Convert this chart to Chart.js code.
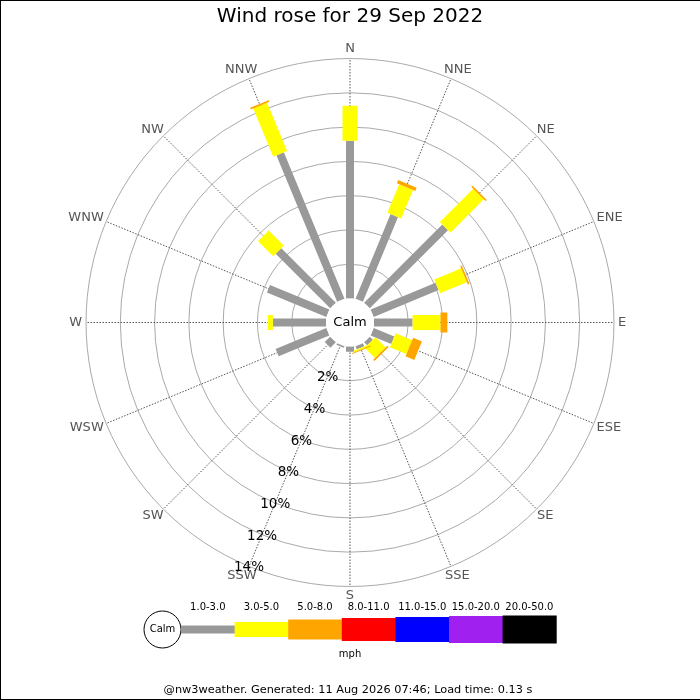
<!DOCTYPE html>
<html>
<head>
<meta charset="utf-8">
<script src="https://cdn.jsdelivr.net/npm/chart.js@4.4.0/dist/chart.umd.min.js"></script>
<style>
  html, body { margin: 0; padding: 0; background: #fff; }
  #wrap { width: 700px; height: 700px; }
</style>
</head>
<body>
<div id="wrap"><canvas id="rose" width="700" height="700"></canvas></div>
<script>
// wind rose data, % of time per direction and speed bin
const directions = ['N', 'NNE', 'NE', 'ENE', 'E', 'ESE', 'SE', 'SSE', 'S', 'SSW', 'SW', 'WSW', 'W', 'WNW', 'NW', 'NNW'];
const speedBins = ['1.0-3.0', '3.0-5.0', '5.0-8.0', '8.0-11.0', '11.0-15.0', '15.0-20.0', '20.0-50.0'];
const freq1to3 = [9.2, 5.35, 6.45, 4.1, 2.25, 1.3, 0.25, 0.2, 0.3, 0.1, 0.45, 3.2, 3.1, 3.75, 4.5, 9.25];
const freq3to5 = [2.05, 1.8, 2.75, 1.7, 1.63, 1.05, 0.85, 0.1, 0, 0, 0, 0, 0.3, 0, 1.25, 3.05];
const freq5to8 = [0, 0.2, 0.1, 0.1, 0.4, 0.55, 0.1, 0.05, 0, 0, 0, 0, 0, 0, 0, 0.1];
const freq8to11 = [0, 0, 0, 0, 0, 0, 0, 0, 0, 0, 0, 0, 0, 0, 0, 0];
const freq11to15 = [0, 0, 0, 0, 0, 0, 0, 0, 0, 0, 0, 0, 0, 0, 0, 0];
const freq15to20 = [0, 0, 0, 0, 0, 0, 0, 0, 0, 0, 0, 0, 0, 0, 0, 0];
const freq20to50 = [0, 0, 0, 0, 0, 0, 0, 0, 0, 0, 0, 0, 0, 0, 0, 0];
const ringTicks = [2, 4, 6, 8, 10, 12, 14];

const titleText = 'Wind rose for 29 Sep 2022';
const footerText = '@nw3weather. Generated: 11 Aug 2026 07:46; Load time: 0.13 s';

// styles
const binColors = ['#999999', '#ffff00', '#ffa500', '#ff0000', '#0000ff', '#a020f0', '#000000'];
const binWidths = [8, 15, 20, 23, 25, 27, 28];
const PX_PER_PCT = 17.14;
const CALM = 24 / PX_PER_PCT;   // calm circle radius in % units
const FONT = '"DejaVu Sans", sans-serif';

const bins = [freq1to3, freq3to5, freq5to8, freq8to11, freq11to15, freq15to20, freq20to50];

// one dataset per speed bin; each direction is a 2-point segment, NaN breaks the line
function segments(b) {
    const pts = [];
    directions.forEach((d, i) => {
        const v = bins[b][i];
        if (!v) return;
        let base = CALM;
        for (let k = 0; k < b; k++) base += bins[k][i];
        const a = i * 22.5 * Math.PI / 180;
        pts.push({ x: base * Math.sin(a), y: base * Math.cos(a) });
        pts.push({ x: (base + v) * Math.sin(a), y: (base + v) * Math.cos(a) });
        pts.push({ x: NaN, y: NaN });
    });
    return pts;
}

const datasets = speedBins.map((label, b) => ({
    label,
    data: segments(b),
    showLine: true,
    borderColor: binColors[b],
    borderWidth: binWidths[b],
    borderCapStyle: 'butt',
    // tiny tension keeps Chart.js off its per-pixel fast path (it would squash short slanted segments)
    tension: 0.000001,
    pointRadius: 0,
    pointHoverRadius: 0,
    spanGaps: false,
    order: speedBins.length - b,
}));

const rosePlugin = {
    id: 'rose',
    beforeDatasetsDraw(chart) {
        const ctx = chart.ctx, xs = chart.scales.x, ys = chart.scales.y;
        const cx = xs.getPixelForValue(0), cy = ys.getPixelForValue(0);
        const rpx = v => xs.getPixelForValue(v) - cx;
        const outer = rpx(CALM + ringTicks[ringTicks.length - 1]);
        ctx.save();
        ctx.fillStyle = '#fff';
        ctx.fillRect(0, 0, chart.width, chart.height);
        // rings
        ctx.strokeStyle = '#aaaaaa';
        ctx.lineWidth = 1;
        ringTicks.forEach(t => {
            ctx.beginPath();
            ctx.arc(cx, cy, rpx(CALM + t), 0, Math.PI * 2);
            ctx.stroke();
        });
        // spokes
        ctx.strokeStyle = '#555';
        ctx.setLineDash([1.5, 1.5]);
        directions.forEach((d, i) => {
            const a = i * 22.5 * Math.PI / 180;
            const r0 = rpx(CALM);
            ctx.beginPath();
            ctx.moveTo(cx + r0 * Math.sin(a), cy - r0 * Math.cos(a));
            ctx.lineTo(cx + outer * Math.sin(a), cy - outer * Math.cos(a));
            ctx.stroke();
        });
        ctx.restore();
    },
    afterDatasetsDraw(chart) {
        const ctx = chart.ctx, xs = chart.scales.x, ys = chart.scales.y;
        const cx = xs.getPixelForValue(0), cy = ys.getPixelForValue(0);
        const rpx = v => xs.getPixelForValue(v) - cx;
        const outer = rpx(CALM + ringTicks[ringTicks.length - 1]);
        ctx.save();
        // calm circle
        ctx.fillStyle = '#fff';
        ctx.beginPath();
        ctx.arc(cx, cy, rpx(CALM), 0, Math.PI * 2);
        ctx.fill();
        ctx.fillStyle = '#000';
        ctx.font = '13px ' + FONT;
        ctx.textAlign = 'center';
        ctx.textBaseline = 'middle';
        ctx.fillText('Calm', cx, cy);

        // compass labels
        ctx.fillStyle = '#555';
        ctx.font = '13px ' + FONT;
        directions.forEach((d, i) => {
            const a = i * 22.5 * Math.PI / 180;
            const r = outer + 4;
            const w = ctx.measureText(d).width;
            const px = cx + r * Math.sin(a) + Math.sin(a) * w / 2;
            const py = cy - r * Math.cos(a) - Math.cos(a) * 5.5;
            ctx.fillText(d, px, py);
        });

        // percent labels along SSW
        ctx.fillStyle = '#000';
        ctx.font = '13.5px ' + FONT;
        const la = 202.5 * Math.PI / 180;
        ringTicks.forEach(t => {
            const r = rpx(CALM + t);
            ctx.fillText(t + '%', cx + r * Math.sin(la), cy - r * Math.cos(la) + 1.5);
        });

        // title
        ctx.font = '20px ' + FONT;
        ctx.fillText(titleText, 350, 17);

        // legend
        const ly = 629.5, lx0 = 181, segW = 53.6;
        ctx.strokeStyle = '#000';
        ctx.lineWidth = 1;
        ctx.beginPath();
        ctx.arc(162.5, ly, 18.5, 0, Math.PI * 2);
        ctx.stroke();
        ctx.font = '10px ' + FONT;
        ctx.fillText('Calm', 162.5, ly);
        speedBins.forEach((s, b) => {
            const x = lx0 + b * segW;
            ctx.fillStyle = binColors[b];
            ctx.fillRect(x, ly - binWidths[b] / 2, segW + 0.5, binWidths[b]);
            ctx.fillStyle = '#000';
            ctx.fillText(s, x + segW / 2, 607);
        });
        ctx.fillText('mph', 350, 654);

        // footer
        ctx.font = '11.3px ' + FONT;
        ctx.fillText(footerText, 348, 690);

        // frame
        ctx.strokeStyle = '#000';
        ctx.lineWidth = 2;
        ctx.beginPath();
        ctx.moveTo(0, 0); ctx.lineTo(0, 700);
        ctx.moveTo(0, 0); ctx.lineTo(700, 0);
        ctx.moveTo(0, 700); ctx.lineTo(700, 700);
        ctx.stroke();
        ctx.restore();
    }
};

new Chart(document.getElementById('rose'), {
    type: 'scatter',
    data: { datasets },
    options: {
        responsive: false,
        animation: false,
        events: [],
        layout: { padding: 0 },
        plugins: { legend: { display: false }, tooltip: { enabled: false }, title: { display: false } },
        scales: {
            x: { type: 'linear', display: false, min: -350 / PX_PER_PCT, max: 350 / PX_PER_PCT },
            y: { type: 'linear', display: false, min: -377.5 / PX_PER_PCT, max: 322.5 / PX_PER_PCT },
        },
    },
    plugins: [rosePlugin],
});
</script>
</body>
</html>
